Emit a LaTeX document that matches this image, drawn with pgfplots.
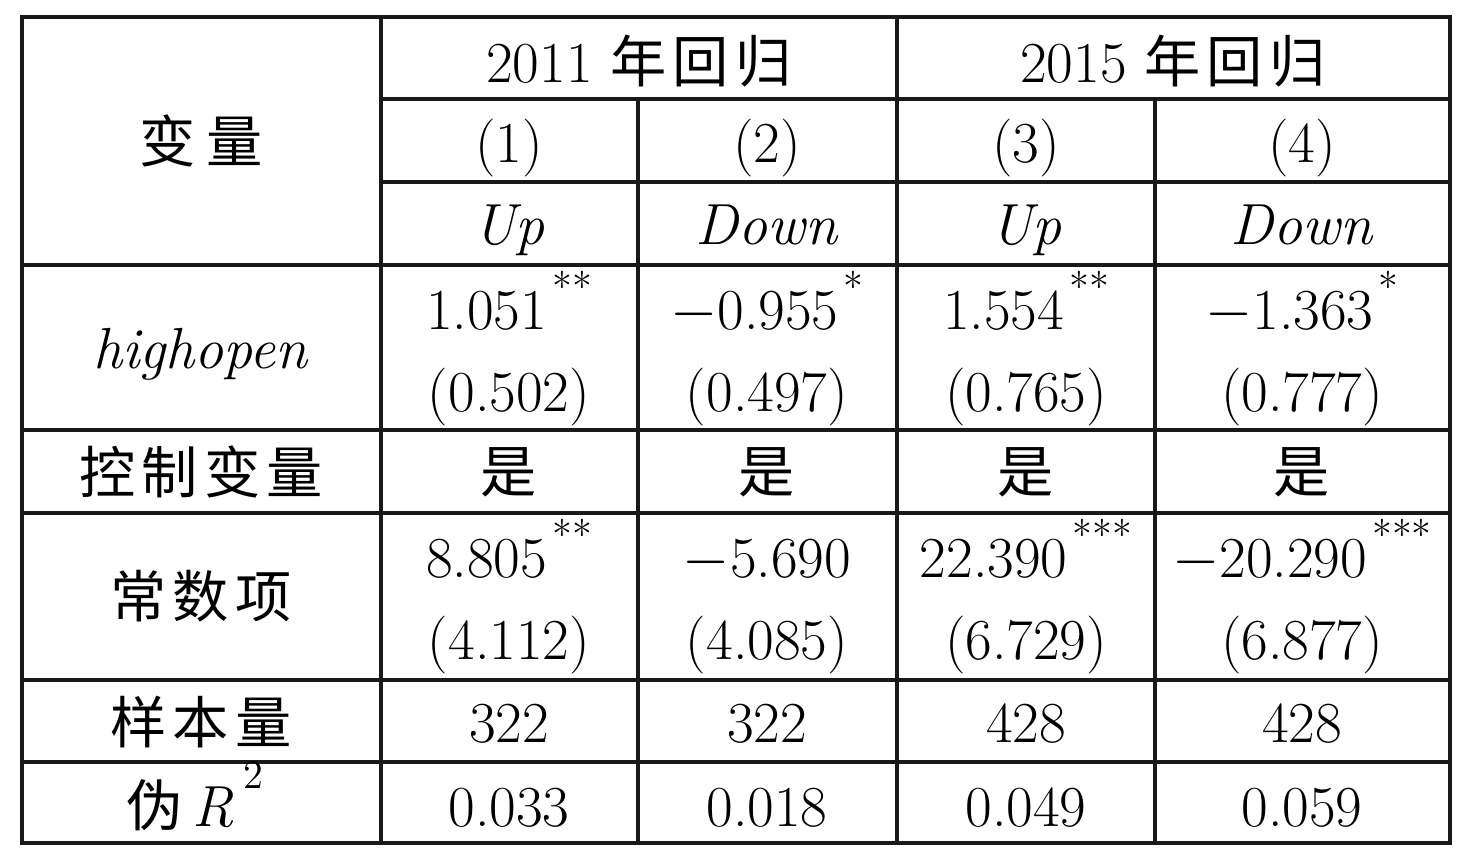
\documentclass[border=0pt]{standalone}
\usepackage{fontspec}
\usepackage{pgfplots}
\pgfplotsset{compat=1.18}
\newfontfamily\cjk{Noto Sans CJK SC}
\newcommand{\zh}[1]{{\cjk\fontsize{16}{18}\selectfont #1}}
\newcommand{\st}[1]{\kern1.5pt\raisebox{8pt}{\fontsize{11.5}{11.5}\selectfont #1}}
\newcommand{\gap}{\kern1.8pt}
\newcommand{\fs}{\fontsize{16.5}{20}\selectfont}
\begin{document}
\fs
\begin{tikzpicture}[every node/.style={font=\fs}]
\begin{axis}[
  scale only axis, width=147.3mm, height=86mm,
  xmin=0, xmax=1473, ymin=0, ymax=860, y dir=reverse,
  hide axis, clip=false,
  every node/.append style={font=\fs},
]
\addplot[draw=none] coordinates {(0,0) (1473,860)};
% horizontal rules
\pgfplotsinvokeforeach{17,265,430,513,680,762,843}{
  \addplot[black!90, line width=0.4mm, line cap=rect] coordinates {(22,#1) (1450,#1)};
}
\pgfplotsinvokeforeach{99,182}{
  \addplot[black!90, line width=0.4mm, line cap=rect] coordinates {(381,#1) (1450,#1)};
}
% vertical rules
\pgfplotsinvokeforeach{22,381,897,1450}{
  \addplot[black!90, line width=0.4mm, line cap=rect] coordinates {(#1,17) (#1,843)};
}
\pgfplotsinvokeforeach{638,1155}{
  \addplot[black!90, line width=0.4mm, line cap=rect] coordinates {(#1,99) (#1,843)};
}
% header
\node[anchor=base] at (axis cs:639,82) {\fs 2011 \zh{年\gap 回\gap 归}};
\node[anchor=base] at (axis cs:1173,82) {\fs 2015 \zh{年\gap 回\gap 归}};
\node at (axis cs:201,141) {\zh{变\kern3pt 量}};
\node[anchor=base] at (axis cs:509,163) {\fs (1)};
\node[anchor=base] at (axis cs:767,163) {\fs (2)};
\node[anchor=base] at (axis cs:1026,163) {\fs (3)};
\node[anchor=base] at (axis cs:1302,163) {\fs (4)};
\node[anchor=base] at (axis cs:509,245) {\fs\textit{Up}};
\node[anchor=base] at (axis cs:767,245) {\fs\textit{Down}};
\node[anchor=base] at (axis cs:1026,245) {\fs\textit{Up}};
\node[anchor=base] at (axis cs:1302,245) {\fs\textit{Down}};
% highopen
\node[anchor=base] at (axis cs:201,369) {\fs\textit{highopen}};
\node[anchor=base] at (axis cs:509,330) {\fs 1.051\st{**}};
\node[anchor=base] at (axis cs:767,330) {\fs $-$0.955\st{*}};
\node[anchor=base] at (axis cs:1026,330) {\fs 1.554\st{**}};
\node[anchor=base] at (axis cs:1302,330) {\fs $-$1.363\st{*}};
\node[anchor=base] at (axis cs:509,412) {\fs (0.502)};
\node[anchor=base] at (axis cs:767,412) {\fs (0.497)};
\node[anchor=base] at (axis cs:1026,412) {\fs (0.765)};
\node[anchor=base] at (axis cs:1302,412) {\fs (0.777)};
% controls
\node at (axis cs:201,472) {\zh{控\gap 制\gap 变\gap 量}};
\node at (axis cs:509,472) {\zh{是}};
\node at (axis cs:767,472) {\zh{是}};
\node at (axis cs:1026,472) {\zh{是}};
\node at (axis cs:1302,472) {\zh{是}};
% constant
\node at (axis cs:201,596) {\zh{常\gap 数\gap 项}};
\node[anchor=base] at (axis cs:509,578) {\fs 8.805\st{**}};
\node[anchor=base] at (axis cs:767,578) {\fs $-$5.690};
\node[anchor=base] at (axis cs:1026,578) {\fs 22.390\st{***}};
\node[anchor=base] at (axis cs:1302,578) {\fs $-$20.290\st{***}};
\node[anchor=base] at (axis cs:509,660) {\fs (4.112)};
\node[anchor=base] at (axis cs:767,660) {\fs (4.085)};
\node[anchor=base] at (axis cs:1026,660) {\fs (6.729)};
\node[anchor=base] at (axis cs:1302,660) {\fs (6.877)};
% N
\node at (axis cs:201,722) {\zh{样\gap 本\gap 量}};
\node[anchor=base] at (axis cs:509,743) {\fs 322};
\node[anchor=base] at (axis cs:767,743) {\fs 322};
\node[anchor=base] at (axis cs:1026,743) {\fs 428};
\node[anchor=base] at (axis cs:1302,743) {\fs 428};
% R2
\node[anchor=base] at (axis cs:195,827) {\zh{伪}\,\fs\textit{R}\kern3pt\raisebox{11pt}{\fontsize{11.5}{11.5}\selectfont 2}};
\node[anchor=base] at (axis cs:509,827) {\fs 0.033};
\node[anchor=base] at (axis cs:767,827) {\fs 0.018};
\node[anchor=base] at (axis cs:1026,827) {\fs 0.049};
\node[anchor=base] at (axis cs:1302,827) {\fs 0.059};
\end{axis}
\end{tikzpicture}
\end{document}
